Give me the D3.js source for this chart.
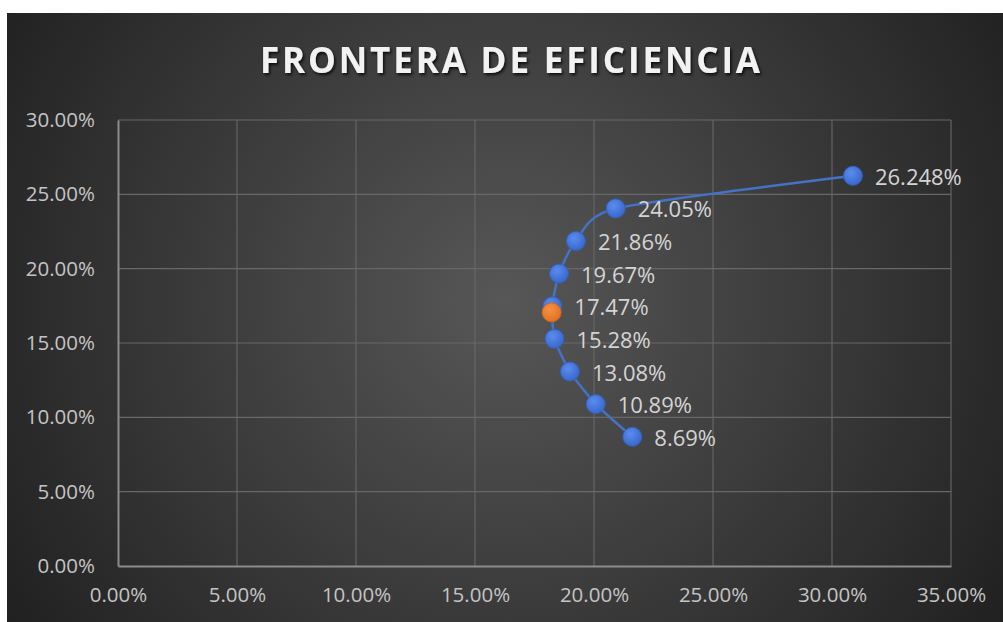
<!DOCTYPE html>
<html><head><meta charset="utf-8">
<script src="https://cdn.jsdelivr.net/npm/d3@7"></script>
<style>html,body{margin:0;padding:0;background:#fff;}svg{display:block;}</style>
</head><body>
<script>
// Data: risk (x, %), return (y, %)
const riskValues   = [21.61, 20.07, 18.99, 18.34, 18.25, 18.53, 19.24, 20.91, 30.88];
const returnValues = [8.69, 10.89, 13.08, 15.28, 17.47, 19.67, 21.86, 24.05, 26.248];
const pointLabels  = ["8.69%", "10.89%", "13.08%", "15.28%", "17.47%", "19.67%", "21.86%", "24.05%", "26.248%"];
const optimalRisk = [18.22];
const optimalReturn = [17.06];
const xTicks = [0, 5, 10, 15, 20, 25, 30, 35];
const yTicks = [0, 5, 10, 15, 20, 25, 30];
const chartTitle = "FRONTERA DE EFICIENCIA";

const W = 1003, H = 622;
const svg = d3.select("body").append("svg").attr("width", W).attr("height", H);
const defs = svg.append("defs");
const rg = defs.append("radialGradient").attr("id", "bg")
  .attr("gradientUnits", "userSpaceOnUse")
  .attr("cx", 505).attr("cy", 300).attr("r", 620);
rg.append("stop").attr("offset", "0%").attr("stop-color", "#575757");
rg.append("stop").attr("offset", "100%").attr("stop-color", "#1e1e1e");
const sh = defs.append("filter").attr("id", "tshadow").attr("x", "-10%").attr("y", "-30%").attr("width", "120%").attr("height", "160%");
sh.append("feDropShadow").attr("dx", 1.5).attr("dy", 2).attr("stdDeviation", 1.5).attr("flood-color", "#000").attr("flood-opacity", 0.8);
const mg = defs.append("radialGradient").attr("id", "mk").attr("cx", "40%").attr("cy", "35%").attr("r", "65%");
mg.append("stop").attr("offset", "0%").attr("stop-color", "#5a8cf0");
mg.append("stop").attr("offset", "100%").attr("stop-color", "#3a68cc");
const mo = defs.append("radialGradient").attr("id", "mo").attr("cx", "40%").attr("cy", "35%").attr("r", "65%");
mo.append("stop").attr("offset", "0%").attr("stop-color", "#f59148");
mo.append("stop").attr("offset", "100%").attr("stop-color", "#e2711f");

svg.append("rect").attr("x", 7).attr("y", 13).attr("width", W - 7).attr("height", H - 13).attr("fill", "url(#bg)");

const x = d3.scaleLinear().domain([0, 35]).range([118, 951]);
const y = d3.scaleLinear().domain([0, 30]).range([566, 120]);

// gridlines
const grid = svg.append("g");
grid.selectAll("line.v").data(xTicks.slice(1)).join("line")
  .attr("x1", d => x(d)).attr("x2", d => x(d)).attr("y1", y(0)).attr("y2", y(30))
  .attr("stroke", "#686868").attr("stroke-width", 1.1);
grid.selectAll("line.h").data(yTicks.slice(1)).join("line")
  .attr("y1", d => y(d)).attr("y2", d => y(d)).attr("x1", x(0)).attr("x2", x(35))
  .attr("stroke", "#686868").attr("stroke-width", 1.1);

// axes
const fmt = d => d.toFixed(2) + "%";
const xAxis = svg.append("g").attr("transform", `translate(0,${y(0)})`)
  .call(d3.axisBottom(x).tickValues(xTicks).tickFormat(fmt).tickSize(0).tickPadding(21));
const yAxis = svg.append("g").attr("transform", `translate(${x(0)},0)`)
  .call(d3.axisLeft(y).tickValues(yTicks).tickFormat(fmt).tickSize(0).tickPadding(23));
[xAxis, yAxis].forEach(g => {
  g.select(".domain").attr("stroke", "#8c8c8c").attr("stroke-width", 2);
  g.selectAll("text").attr("fill", "#c4c4c4").attr("font-family", "'Open Sans', sans-serif").attr("font-size", 20.5);
});

// line
const pts = riskValues.map((r, i) => ({ x: r, y: returnValues[i], label: pointLabels[i] }));
const line = d3.line().x(d => x(d.x)).y(d => y(d.y)).curve(d3.curveCardinal.tension(0.35));
svg.append("path").datum(pts).attr("d", line).attr("fill", "none")
  .attr("stroke", "#4472c4").attr("stroke-width", 2.5);

svg.append("g").selectAll("circle").data(pts).join("circle")
  .attr("cx", d => x(d.x)).attr("cy", d => y(d.y)).attr("r", 9.5)
  .attr("fill", "url(#mk)").attr("stroke", "#3560b8").attr("stroke-width", 1);

svg.append("g").selectAll("text").data(pts).join("text")
  .attr("x", d => x(d.x) + 22).attr("y", d => y(d.y))
  .attr("dominant-baseline", "central")
  .attr("fill", "#d4d4d4").attr("font-family", "'Open Sans', sans-serif").attr("font-size", 22)
  .text(d => d.label);

const opt = optimalRisk.map((r, i) => ({ x: r, y: optimalReturn[i] }));
svg.append("g").selectAll("circle").data(opt).join("circle")
  .attr("cx", d => x(d.x)).attr("cy", d => y(d.y)).attr("r", 9.5)
  .attr("fill", "url(#mo)").attr("stroke", "#d0661b").attr("stroke-width", 1);

// title
const t = svg.append("text").attr("x", 510).attr("y", 73).attr("text-anchor", "middle")
  .attr("fill", "#f2f2f2").attr("font-family", "'Open Sans', sans-serif").attr("font-weight", 700)
  .attr("font-size", 35).attr("filter", "url(#tshadow)")
  .text(chartTitle);
const len = t.node().getComputedTextLength();
const ls = (500 - len) / (chartTitle.length - 1);
t.attr("letter-spacing", ls).attr("x", 510 + ls / 2);
</script>
</body></html>
